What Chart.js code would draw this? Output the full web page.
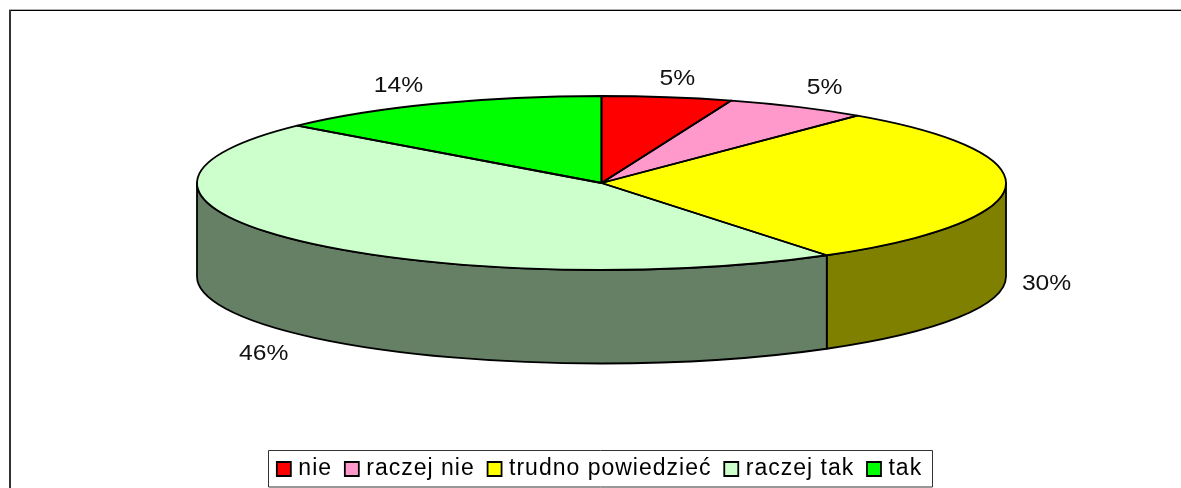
<!DOCTYPE html>
<html lang="pl">
<head>
<meta charset="utf-8">
<title>Wykres kołowy</title>
<script src="https://cdn.jsdelivr.net/npm/chart.js@4"></script>
<style>
html,body{margin:0;padding:0;background:#fff;overflow:hidden}
canvas{display:block}
</style>
</head>
<body>
<canvas id="c" width="1181" height="488"></canvas>
<script>
const categories = ['nie', 'raczej nie', 'trudno powiedzieć', 'raczej tak', 'tak'];
const shares = [5.2, 5.7, 29.7, 45.85, 13.55];
const shareLabels = ['5%', '5%', '30%', '46%', '14%'];
const sliceColors = ['#FF0000', '#FF99CC', '#FFFF00', '#CCFFCC', '#00FF00'];

// label nudges away from the rim, one pair per slice
const labelNudges = [[10, -18.5], [27, -19], [41, 3], [-34, 20], [-36, -18]];

const RX = 404.5, RY = 87, DEPTH = 93.5, CENTER_Y = 183;
const FONT = '"Liberation Sans", Arial, sans-serif';
const LEGEND_SPACING = '1px';
const LEGEND_PAD = 16.8, LEGEND_FONT = 23;

function halfTone(hex) {
  const n = parseInt(hex.slice(1), 16);
  const h = v => Math.round(v / 2);
  return `rgb(${h(n >> 16 & 255)},${h(n >> 8 & 255)},${h(n & 255)})`;
}

const pie3d = {
  id: 'pie3d',
  beforeUpdate(chart) { chart.ctx.letterSpacing = LEGEND_SPACING; },
  afterLayout(chart) {
    chart.legend.top = 469 - LEGEND_PAD - LEGEND_FONT / 2;
    chart.legend.bottom = chart.legend.top + chart.legend.height;
  },
  beforeDraw(chart) {
    const c = chart.ctx;
    c.letterSpacing = LEGEND_SPACING;
    c.save();
    c.fillStyle = '#fff';
    c.fillRect(0, 0, chart.width, chart.height);
    c.fillStyle = '#b0b0b0';
    c.fillRect(9, 9, chart.width - 9, 1);
    c.fillStyle = '#000';
    c.fillRect(9, 10, chart.width - 9, 1);
    c.fillStyle = '#333';
    c.fillRect(9, 10, 2, chart.height - 10);
    c.restore();
  },
  beforeDatasetsDraw(chart) {
    const c = chart.ctx;
    const arcs = chart.getDatasetMeta(0).data;
    c.save();
    c.lineWidth = 1.8;
    c.strokeStyle = '#000';
    c.lineJoin = 'round';
    arcs.forEach((arc, i) => {
      const a = Math.max(arc.startAngle, 0), b = Math.min(arc.endAngle, Math.PI);
      if (b <= a) return;
      c.beginPath();
      c.ellipse(arc.x, CENTER_Y, RX, RY, 0, a, b);
      c.ellipse(arc.x, CENTER_Y + DEPTH, RX, RY, 0, b, a, true);
      c.closePath();
      c.fillStyle = halfTone(sliceColors[i]);
      c.fill();
      c.stroke();
    });
    c.restore();
    const o = arcs[0];
    c.save();
    c.translate(o.x, CENTER_Y);
    c.scale(RX / o.outerRadius, RY / o.outerRadius);
    c.translate(-o.x, -o.y);
  },
  afterDatasetsDraw(chart) {
    const c = chart.ctx;
    c.restore();
    const arcs = chart.getDatasetMeta(0).data;
    c.save();
    c.lineWidth = 1.8;
    c.strokeStyle = '#000';
    c.lineJoin = 'round';
    arcs.forEach(arc => {
      c.beginPath();
      c.moveTo(arc.x, CENTER_Y);
      c.ellipse(arc.x, CENTER_Y, RX, RY, 0, arc.startAngle, arc.endAngle);
      c.closePath();
      c.stroke();
    });
    // legend frame
    c.lineWidth = 1;
    c.strokeStyle = '#333';
    c.strokeRect(268.5, 450.5, 664, 36.5);
    // percentage labels
    c.fillStyle = '#111';
    c.font = '22px ' + FONT;
    c.letterSpacing = '0px';
    c.textAlign = 'center';
    c.textBaseline = 'middle';
    arcs.forEach((arc, i) => {
      const mid = (arc.startAngle + arc.endAngle) / 2;
      const front = Math.sin(mid) > 0;
      const x = arc.x + RX * Math.cos(mid) + labelNudges[i][0];
      const y = CENTER_Y + RY * Math.sin(mid) + (front ? DEPTH : 0) + labelNudges[i][1];
      c.save();
      c.translate(x, y);
      c.scale(1.12, 1);
      c.fillText(shareLabels[i], 0, 0);
      c.restore();
    });
    c.restore();
  }
};

new Chart(document.getElementById('c'), {
  type: 'pie',
  data: {
    labels: categories,
    datasets: [{
      data: shares,
      backgroundColor: sliceColors,
      borderWidth: 0,
      clip: false
    }]
  },
  options: {
    responsive: false,
    animation: false,
    layout: { padding: { left: 22 } },
    plugins: {
      tooltip: { enabled: false },
      legend: {
        position: 'bottom',
        labels: {
          color: '#000',
          font: { family: FONT, size: LEGEND_FONT },
          usePointStyle: true,
          pointStyle: 'rect',
          boxWidth: 6,
          boxHeight: 14,
          padding: LEGEND_PAD,
          generateLabels(chart) {
            return categories.map((text, i) => ({
              text,
              fillStyle: sliceColors[i],
              strokeStyle: '#000',
              lineWidth: 1.8,
              pointStyle: 'rect',
              index: i
            }));
          }
        }
      }
    }
  },
  plugins: [pie3d]
});
</script>
</body>
</html>
